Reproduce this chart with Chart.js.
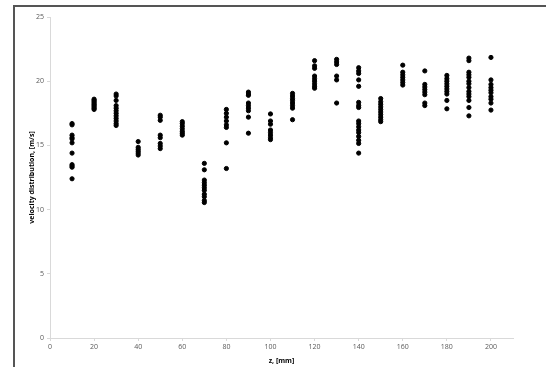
<!DOCTYPE html>
<html>
<head>
<meta charset="utf-8">
<script src="https://cdn.jsdelivr.net/npm/chart.js@4/dist/chart.umd.min.js"></script>
<style>
  html, body { margin: 0; padding: 0; background: #fff; overflow: hidden; }
  #frame { position: absolute; left: 13px; top: 5px; width: 560px; height: 400px; border: 2px solid #555; }
  #wrap { position: absolute; left: 0; top: 0; width: 546px; height: 367px; }
</style>
</head>
<body>
<div id="frame"></div>
<div id="wrap"><canvas id="chart" width="546" height="367"></canvas></div>
<script>
// z positions [mm]
var zPositions = [10, 20, 30, 40, 50, 60, 70, 80, 90, 100, 110, 120, 130, 140, 150, 160, 170, 180, 190, 200];

// velocity readings [m/s] at each z
var v10 = [16.7, 16.6, 15.8, 15.6, 15.5, 15.2, 14.4, 13.5, 13.4, 13.3, 12.4];
var v20 = [18.6, 18.5, 18.4, 18.3, 18.2, 18.1, 18.0, 17.9, 17.8];
var v30 = [19.0, 18.85, 18.5, 18.1, 17.9, 17.7, 17.5, 17.3, 17.1, 16.9, 16.7, 16.55];
var v40 = [15.3, 14.85, 14.7, 14.55, 14.4, 14.25];
var v50 = [17.35, 17.2, 16.95, 15.8, 15.6, 15.15, 14.95, 14.75];
var v60 = [16.85, 16.7, 16.5, 16.3, 16.1, 15.95, 15.8];
var v70 = [13.6, 13.1, 12.3, 12.1, 11.9, 11.7, 11.5, 11.2, 11.0, 10.7, 10.55];
var v80 = [17.8, 17.5, 17.2, 16.9, 16.6, 16.4, 15.2, 13.2];
var v90 = [19.15, 19.0, 18.9, 18.3, 18.1, 17.9, 17.7, 17.2, 15.95];
var v100 = [17.45, 16.9, 16.65, 16.2, 16.0, 15.8, 15.6, 15.45];
var v110 = [19.05, 18.85, 18.65, 18.5, 18.3, 18.1, 17.9, 17.0];
var v120 = [21.6, 21.2, 21.0, 20.4, 20.2, 20.0, 19.8, 19.6, 19.45];
var v130 = [21.7, 21.5, 21.3, 20.4, 20.1, 18.3];
var v140 = [21.05, 20.8, 20.6, 20.1, 19.6, 18.35, 18.1, 17.95, 16.9, 16.7, 16.45, 16.2, 16.0, 15.7, 15.4, 15.15, 14.4];
var v150 = [18.65, 18.4, 18.2, 18.0, 17.8, 17.6, 17.4, 17.2, 17.0, 16.85];
var v160 = [21.25, 20.7, 20.5, 20.3, 20.1, 19.9, 19.7];
var v170 = [20.8, 19.75, 19.55, 19.35, 19.15, 18.95, 18.3, 18.1];
var v180 = [20.45, 20.2, 20.0, 19.8, 19.6, 19.4, 19.2, 19.0, 18.5, 17.85];
var v190 = [21.8, 21.6, 20.7, 20.5, 20.3, 20.0, 19.8, 19.5, 19.2, 19.0, 18.8, 18.5, 17.95, 17.3];
var v200 = [21.85, 20.1, 19.75, 19.5, 19.3, 19.1, 18.8, 18.6, 18.3, 17.75];

var velocities = [v10, v20, v30, v40, v50, v60, v70, v80, v90, v100,
                  v110, v120, v130, v140, v150, v160, v170, v180, v190, v200];

var points = [];
zPositions.forEach(function (z, i) {
    velocities[i].forEach(function (v) {
        points.push({ x: z, y: v });
    });
});

var tickFont = { family: "'Open Sans', 'Liberation Sans', sans-serif", size: 7 };
var titleFont = { family: "'Open Sans', 'Liberation Sans', sans-serif", size: 7, weight: 'bold' };

window.addEventListener("load", function () {
    var ctx = document.getElementById('chart').getContext('2d');
    new Chart(ctx, {
        type: 'scatter',
        data: {
            datasets: [{
                data: points,
                backgroundColor: '#000',
                borderColor: '#000',
                pointRadius: 2.1,
                pointHoverRadius: 2.1
            }]
        },
        options: {
            responsive: false,
            animation: false,
            layout: { padding: { left: 28, right: 33, top: 17, bottom: 0 } },
            plugins: {
                legend: { display: false },
                tooltip: { enabled: false }
            },
            scales: {
                x: {
                    type: 'linear',
                    min: 0,
                    max: 210,
                    afterFit: function (s) { s.height = 29; },
                    ticks: { stepSize: 20, includeBounds: false, color: '#595959', font: tickFont, padding: 2, maxRotation: 0 },
                    grid: { drawOnChartArea: false, tickLength: 3, color: '#d9d9d9' },
                    border: { color: '#d9d9d9' },
                    title: { display: true, text: 'z, [mm]', color: '#000', font: titleFont, padding: { top: 1, bottom: 2 } }
                },
                y: {
                    min: 0,
                    max: 25,
                    afterFit: function (s) { s.width = 22; },
                    ticks: { stepSize: 5, color: '#595959', font: tickFont, padding: 3 },
                    grid: { drawOnChartArea: false, tickLength: 3, color: '#d9d9d9' },
                    border: { color: '#d9d9d9' },
                    title: { display: true, text: 'velocity distribution, [m/s]', color: '#000', font: titleFont, padding: 0 }
                }
            }
        }
    });
});
</script>
</body>
</html>
